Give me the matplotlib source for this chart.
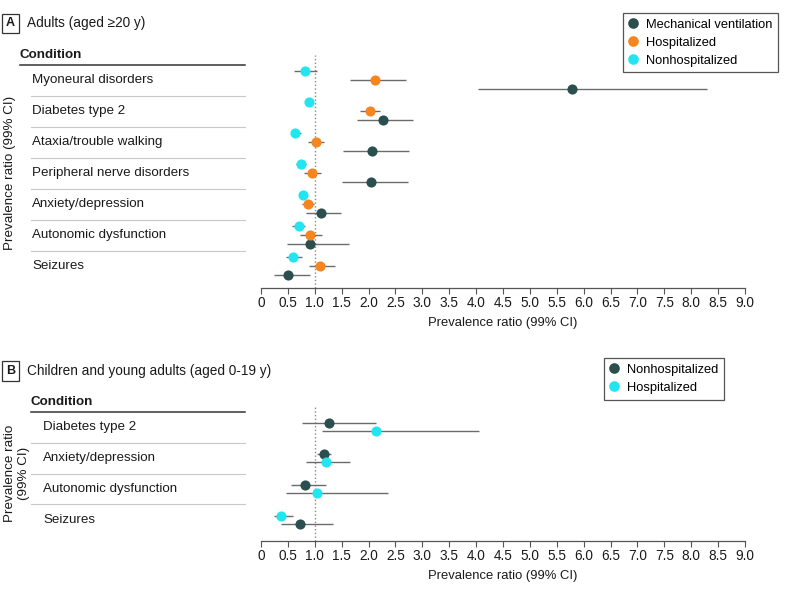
import matplotlib
matplotlib.use('Agg')
import matplotlib.pyplot as plt
import matplotlib.transforms as mtransforms
from matplotlib.lines import Line2D

plt.rcParams['font.family'] = ['Liberation Sans', 'DejaVu Sans']

# Colors
C_DARK = '#2b4e4f'
C_ORANGE = '#f5861f'
C_CYAN = '#22e6ef'
C_CI = '#6b6b6b'
C_TEXT = '#1a1a1a'
C_SEP = '#c8c8c8'

# Panel A data: adults
conditions_a = ['Myoneural disorders', 'Diabetes type 2', 'Ataxia/trouble walking',
                'Peripheral nerve disorders', 'Anxiety/depression',
                'Autonomic dysfunction', 'Seizures']
mv_pr = [5.79, 2.26, 2.06, 2.05, 1.12, 0.92, 0.50]
mv_lo = [4.03, 1.78, 1.52, 1.51, 0.84, 0.49, 0.24]
mv_hi = [8.30, 2.82, 2.75, 2.74, 1.48, 1.63, 0.92]
hosp_pr = [2.12, 2.03, 1.02, 0.94, 0.87, 0.92, 1.10]
hosp_lo = [1.65, 1.84, 0.87, 0.80, 0.77, 0.73, 0.89]
hosp_hi = [2.69, 2.22, 1.18, 1.11, 0.99, 1.14, 1.38]
nonhosp_pr = [0.82, 0.89, 0.64, 0.75, 0.79, 0.70, 0.60]
nonhosp_lo = [0.62, 0.82, 0.55, 0.66, 0.75, 0.58, 0.46]
nonhosp_hi = [1.05, 0.97, 0.74, 0.84, 0.84, 0.82, 0.76]

# Panel B data: children and young adults
conditions_b = ['Diabetes type 2', 'Anxiety/depression', 'Autonomic dysfunction', 'Seizures']
b_nonhosp_pr = [1.27, 1.17, 0.81, 0.72]
b_nonhosp_lo = [0.76, 1.05, 0.55, 0.38]
b_nonhosp_hi = [2.14, 1.30, 1.21, 1.34]
b_hosp_pr = [2.14, 1.20, 1.04, 0.38]
b_hosp_lo = [1.13, 0.83, 0.46, 0.25]
b_hosp_hi = [4.05, 1.66, 2.36, 0.60]
b_upper_series = ['Nonhospitalized', 'Nonhospitalized', 'Nonhospitalized', 'Hospitalized']

x_ticks = [i * 0.5 for i in range(19)]
x_ticklabels = ['0'] + ['%.1f' % t for t in x_ticks[1:]]

W, H = 801, 593
fig = plt.figure(figsize=(W / 100, H / 100), dpi=100, facecolor='white')


def fx(p):
    return p / W


def fy(p):
    return 1 - p / H


def setup_ax(ax, n_rows, top_pad, bottom_pad):
    ax.set_xlim(0, 9)
    ax.set_ylim(n_rows - 1 + bottom_pad, -top_pad)
    for s in ['top', 'right', 'left']:
        ax.spines[s].set_visible(False)
    ax.spines['bottom'].set_color('#555555')
    ax.spines['bottom'].set_linewidth(0.9)
    ax.set_yticks([])
    ax.set_xticks(x_ticks)
    ax.set_xticklabels(x_ticklabels)
    ax.tick_params(axis='x', length=4, width=0.8, color='#555555', labelsize=9.8,
                   labelcolor=C_TEXT, pad=2)
    ax.set_xlabel('Prevalence ratio (99% CI)', fontsize=9.4, color=C_TEXT, labelpad=5)
    ax.axvline(1.0, color='#888888', linestyle=':', linewidth=1.0, zorder=1)
    ax.set_facecolor('white')


def draw_series(ax, ys, pr, lo, hi, color, label):
    ax.hlines(ys, lo, hi, color=C_CI, linewidth=1.0, zorder=2)
    ax.plot(pr, ys, 'o', color=color, markersize=7.3, markeredgewidth=0,
            zorder=3, label=label, linestyle='none')


def draw_table(ax, conditions, header_x, label_x, sep_x0, ylabel, ylabel_x):
    tr = mtransforms.blended_transform_factory(fig.transFigure, ax.transData)
    ax.text(fx(header_x), -0.8, 'Condition', transform=tr, fontsize=9.6,
            fontweight='bold', color=C_TEXT, va='center', ha='left')
    ax.add_line(Line2D([fx(header_x), fx(245)], [-0.5, -0.5], transform=tr,
                       color='#333333', linewidth=1.1, clip_on=False))
    for i, name in enumerate(conditions):
        ax.text(fx(label_x), i, name, transform=tr, fontsize=9.6, color=C_TEXT,
                va='center', ha='left')
        if i < len(conditions) - 1:
            ax.add_line(Line2D([fx(sep_x0), fx(245)], [i + 0.5, i + 0.5], transform=tr,
                               color=C_SEP, linewidth=0.8, clip_on=False))
    ax.text(fx(ylabel_x), (len(conditions) - 1) / 2, ylabel, transform=tr, rotation=90,
            fontsize=9.6, color=C_TEXT, va='center', ha='center', multialignment='center',
            linespacing=1.25)


def panel_title(letter, title, y):
    fig.text(fx(10.5), fy(y), letter, fontsize=9, fontweight='bold', color=C_TEXT,
             ha='center', va='center',
             bbox=dict(boxstyle='square,pad=0.3', facecolor='white', edgecolor='#333333',
                       linewidth=0.9))
    fig.text(fx(27), fy(y), title, fontsize=9.8, color=C_TEXT, ha='left', va='center')


def add_legend(ax, x, y):
    leg = ax.legend(loc='upper left', bbox_to_anchor=(fx(x), fy(y)),
                    bbox_transform=fig.transFigure, frameon=True, fancybox=False,
                    edgecolor='#555555', framealpha=1, handlelength=0.7,
                    handletextpad=0.6, borderpad=0.45, labelspacing=0.45,
                    fontsize=9.3, borderaxespad=0, numpoints=1, markerscale=1.05)
    leg.get_frame().set_linewidth(0.9)


# Panel A
ax_a = fig.add_axes([fx(261), fy(288), fx(745) - fx(261), fy(55) - fy(288)])
setup_ax(ax_a, len(conditions_a), 0.81, 0.71)
rows_a = list(range(len(conditions_a)))
off_a = 0.28
draw_series(ax_a, [r + off_a for r in rows_a], mv_pr, mv_lo, mv_hi, C_DARK, 'Mechanical ventilation')
draw_series(ax_a, rows_a, hosp_pr, hosp_lo, hosp_hi, C_ORANGE, 'Hospitalized')
draw_series(ax_a, [r - off_a for r in rows_a], nonhosp_pr, nonhosp_lo, nonhosp_hi, C_CYAN, 'Nonhospitalized')
draw_table(ax_a, conditions_a, 20, 32, 31, 'Prevalence ratio (99% CI)', 10)
panel_title('A', 'Adults (aged \u226520 y)', 23.5)
add_legend(ax_a, 623, 13)

# Panel B
ax_b = fig.add_axes([fx(261), fy(541), fx(745) - fx(261), fy(407) - fy(541)])
setup_ax(ax_b, len(conditions_b), 0.65, 0.68)
off_b = 0.14
rows_b = list(range(len(conditions_b)))
nh_y = [r - off_b if u == 'Nonhospitalized' else r + off_b for r, u in zip(rows_b, b_upper_series)]
h_y = [r + off_b if u == 'Nonhospitalized' else r - off_b for r, u in zip(rows_b, b_upper_series)]
draw_series(ax_b, nh_y, b_nonhosp_pr, b_nonhosp_lo, b_nonhosp_hi, C_DARK, 'Nonhospitalized')
draw_series(ax_b, h_y, b_hosp_pr, b_hosp_lo, b_hosp_hi, C_CYAN, 'Hospitalized')
draw_table(ax_b, conditions_b, 31, 43, 31, 'Prevalence ratio\n(99% CI)', 17)
panel_title('B', 'Children and young adults (aged 0-19 y)', 371)
add_legend(ax_b, 604, 358)

fig.savefig('out.png', dpi=100, facecolor='white')
